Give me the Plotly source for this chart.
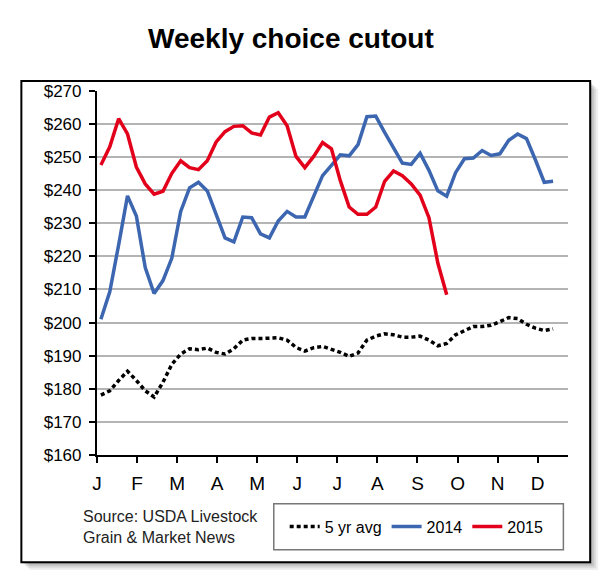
import plotly.graph_objects as go

# ---- data (weekly values, week 1..52) ----
weeks_2014 = list(range(1, 53))
cutout_2014 = [201.0, 209.3, 223.5, 238.3, 232.2, 216.6, 208.8, 212.7, 219.5, 233.6,
               240.7, 242.4, 239.8, 232.7, 225.6, 224.4, 231.9, 231.7, 226.8, 225.6,
               230.7, 233.6, 231.9, 231.9, 238.0, 244.4, 247.5, 250.7, 250.4, 253.8,
               262.2, 262.4, 257.5, 252.7, 248.2, 247.8, 251.2, 246.0, 239.8, 238.2,
               245.3, 249.5, 249.7, 252.0, 250.5, 251.0, 255.1, 257.0, 255.6, 249.2,
               242.4, 242.7]
weeks_2015 = list(range(1, 41))
cutout_2015 = [247.6, 253.1, 261.6, 257.0, 247.0, 241.9, 238.8, 239.7, 245.1, 248.9,
               246.8, 246.2, 248.9, 254.6, 257.7, 259.3, 259.5, 257.3, 256.7, 262.1,
               263.4, 259.5, 250.2, 246.8, 250.2, 254.4, 252.5, 242.9, 234.9, 232.7,
               232.7, 234.9, 242.7, 245.8, 244.4, 241.9, 238.5, 231.7, 218.0, 208.4]
weeks_avg = list(range(1, 53))
avg_5yr = [178.1, 179.4, 182.5, 185.3, 182.5, 179.4, 177.5, 182.0, 187.4, 190.5,
           192.1, 191.8, 192.3, 191.0, 190.5, 192.1, 194.7, 195.2, 195.2, 195.2,
           195.4, 194.7, 192.5, 191.4, 192.4, 192.8, 191.9, 191.0, 189.8, 190.8,
           194.7, 195.9, 196.6, 196.3, 195.6, 195.6, 195.9, 194.7, 193.0, 193.7,
           196.3, 197.6, 198.8, 198.8, 199.2, 200.3, 201.5, 201.2, 199.5, 198.3,
           197.6, 198.1]
month_labels = ["J", "F", "M", "A", "M", "J", "J", "A", "S", "O", "N", "D"]
month_ticks = [0.553 + 4.519 * k for k in range(12)]
y_ticks = list(range(160, 271, 10))
y_labels = ["$" + str(v) for v in y_ticks]

W, H = 610, 582
FONT = "Liberation Sans, Arial, sans-serif"

def px(x):
    return x / W

def py(y):
    return 1 - y / H

fig = go.Figure()
fig.add_trace(go.Scatter(x=weeks_avg, y=avg_5yr, mode="lines", name="5 yr avg",
                         line=dict(color="black", width=3.5, dash="4px,3px")))
fig.add_trace(go.Scatter(x=weeks_2014, y=cutout_2014, mode="lines", name="2014",
                         line=dict(color="#3c66b0", width=3.5)))
fig.add_trace(go.Scatter(x=weeks_2015, y=cutout_2015, mode="lines", name="2015",
                         line=dict(color="#e2001a", width=3.5)))

shapes = []
# drop shadow
for i, op in enumerate([0.06, 0.08, 0.10, 0.12]):
    off = 8 - 2 * i
    shapes.append(dict(type="rect", xref="paper", yref="paper",
                       x0=px(16.5 + off), x1=px(590 + off), y0=py(572 + off), y1=py(74.5 + off),
                       line=dict(width=0), fillcolor=f"rgba(0,0,0,{op})", layer="below"))
# frame
shapes.append(dict(type="rect", xref="paper", yref="paper",
                   x0=px(16.5), x1=px(590), y0=py(572), y1=py(74.5),
                   line=dict(color="black", width=2), fillcolor="white", layer="below"))
# legend box
shapes.append(dict(type="rect", xref="paper", yref="paper",
                   x0=px(271), x1=px(563), y0=py(559), y1=py(511.5),
                   line=dict(color="#777777", width=1.5), fillcolor="white", layer="below"))

fig.update_layout(
    width=W, height=H,
    margin=dict(l=0, r=0, t=0, b=0),
    paper_bgcolor="white", plot_bgcolor="rgba(0,0,0,0)",
    shapes=shapes,
    showlegend=True,
    legend=dict(orientation="h", x=px(282), y=py(535), xanchor="left", yanchor="middle",
                bgcolor="rgba(0,0,0,0)", borderwidth=0,
                font=dict(family=FONT, size=16, color="black"),
                itemwidth=30, tracegroupgap=0),
    annotations=[
        dict(text="<b>Weekly choice cutout</b>", xref="paper", yref="paper",
             x=px(288), y=py(30), xanchor="center", yanchor="middle", showarrow=False,
             font=dict(family=FONT, size=28, color="black")),
        dict(text="Source: USDA Livestock<br>Grain & Market News", xref="paper", yref="paper",
             x=px(77), y=py(535), xanchor="left", yanchor="middle", align="left",
             showarrow=False, font=dict(family=FONT, size=16, color="#222222")),
    ],
    xaxis=dict(domain=[px(92.7), px(568)], range=[0.553, 53.72],
               tickmode="array", tickvals=month_ticks, ticktext=month_labels,
               showline=True, linecolor="black", linewidth=2,
               ticks="outside", ticklen=6, tickwidth=2, tickcolor="black",
               showgrid=False, zeroline=False, fixedrange=True, ticklabelstandoff=4,
               tickfont=dict(family=FONT, size=19, color="black")),
    yaxis=dict(domain=[py(461), py(84.7)], range=[160, 270],
               tickmode="array", tickvals=y_ticks, ticktext=y_labels,
               showline=True, linecolor="black", linewidth=2,
               ticks="outside", ticklen=6, tickwidth=2, tickcolor="black",
               showgrid=True, gridcolor="#b4b4b4", gridwidth=1.5,
               zeroline=False, fixedrange=True, ticklabelstandoff=4,
               tickfont=dict(family=FONT, size=17, color="black")),
)

fig.write_html("out.html")
